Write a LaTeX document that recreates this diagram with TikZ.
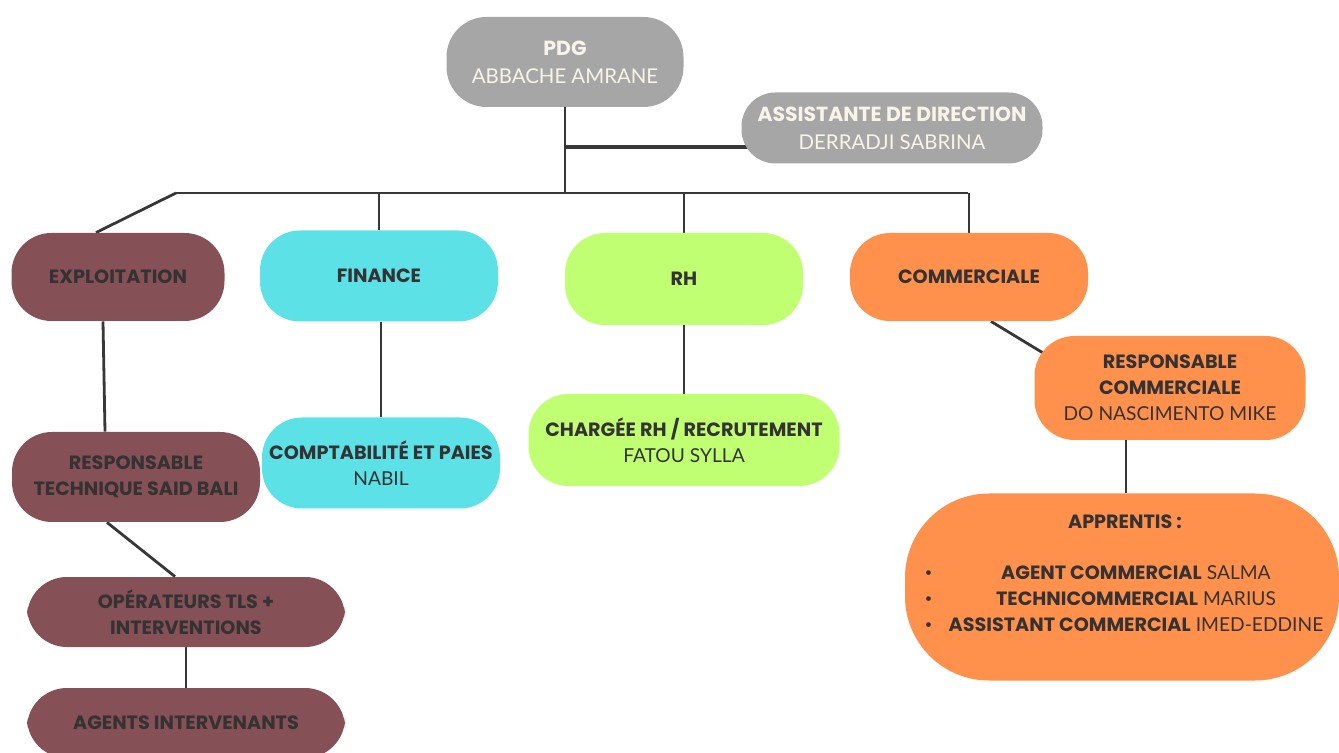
\documentclass[tikz,border=0pt]{standalone}
\usepackage{fontspec}
\setmainfont{Poppins}
\newfontfamily\nomfont{Lato}
\usetikzlibrary{backgrounds}

\begin{document}
\begin{tikzpicture}[x=0.5pt, y=-0.5pt,
    every node/.style={font=\fontsize{9.6}{13}\selectfont},
    case/.style={rounded corners=20pt, inner sep=0pt, align=center, text=texte},
    dim/.style 2 args={minimum width=#1*0.5pt, minimum height=#2*0.5pt},
    lien/.style={draw=trait, line width=1.4pt}]
    \definecolor{gris}{RGB}{166,166,166}
    \definecolor{creme}{RGB}{248,244,232}
    \definecolor{bordeaux}{RGB}{133,80,86}
    \definecolor{cyan}{RGB}{92,225,230}
    \definecolor{citron}{RGB}{193,255,114}
    \definecolor{orange}{RGB}{255,145,77}
    \definecolor{texte}{RGB}{52,50,50}
    \definecolor{trait}{RGB}{55,55,55}

    \useasboundingbox (0,0) rectangle (1339,753);

    % Direction.
    \node[case, fill=gris, text=creme, dim={237}{90}, font=\fontsize{10.2}{14}\selectfont]
        (pdg) at (565,62) {\bfseries PDG\\{\nomfont ABBACHE AMRANE}};
    \node[case, fill=gris, text=creme, dim={301}{71}, rounded corners=17pt, font=\fontsize{10.2}{14}\selectfont]
        (assist) at (892,128) {\bfseries ASSISTANTE DE DIRECTION\\{\nomfont DERRADJI SABRINA}};

    % Services.
    \node[case, fill=bordeaux, dim={213}{88}] (expl) at (118,277) {\bfseries EXPLOITATION};
    \node[case, fill=cyan, dim={238}{91}] (fin) at (379,276) {\bfseries FINANCE};
    \node[case, fill=citron, dim={238}{92}] (rh) at (684,279) {\bfseries RH};
    \node[case, fill=orange, dim={238}{88}] (comm) at (969,277) {\bfseries COMMERCIALE};

    % Exploitation.
    \node[case, fill=bordeaux, dim={248}{90}] (resptech) at (136,477)
        {\bfseries RESPONSABLE\\\bfseries TECHNIQUE SAID BALI};
    \node[case, fill=bordeaux, dim={318}{70}] (oper) at (186,612)
        {\bfseries OPÉRATEURS TLS +\\\bfseries INTERVENTIONS};
    \node[case, fill=bordeaux, dim={318}{70}] (agents) at (186,723)
        {\bfseries AGENTS INTERVENANTS};

    % Finance et RH.
    \node[case, fill=cyan, dim={238}{91}] (compta) at (381,463)
        {\bfseries COMPTABILITÉ ET PAIES\\{\nomfont NABIL}};
    \node[case, fill=citron, dim={311}{92}] (charge) at (684,440)
        {\bfseries CHARGÉE RH / RECRUTEMENT\\{\nomfont FATOU SYLLA}};

    % Commercial.
    \node[case, fill=orange, dim={271}{104}] (respcomm) at (1170,388)
        {\bfseries RESPONSABLE\\\bfseries COMMERCIALE\\{\nomfont DO NASCIMENTO MIKE}};
    \node[case, fill=orange, dim={434}{187}, rounded corners=42pt] (apprentis) at (1122,587) {};
    \node[text=texte] (apptitre) at (1125,522) {\bfseries APPRENTIS :};
    \node[text=texte, inner sep=0pt] (appliste) at (1124,600) {%
        \begin{tabular}{@{}l@{\hspace{8pt}}c@{}}
        \textbullet & \textbf{AGENT COMMERCIAL} {\nomfont SALMA} \\
        \textbullet & \textbf{TECHNICOMMERCIAL} {\nomfont MARIUS} \\
        \textbullet & \textbf{ASSISTANT COMMERCIAL} {\nomfont IMED-EDDINE}
        \end{tabular}};

    % Liaisons, sous les cases.
    \begin{scope}[on background layer]
        \coordinate (barg) at (176,193);
        \coordinate (bard) at (968,193);
        \draw[lien] (pdg.south) -- (pdg.south |- barg);
        \draw[lien, line width=2.4pt] (pdg.south |- 0,147) -- ([xshift=10pt]assist.west |- 0,147);
        \draw[lien] (barg) -- (bard);
        \draw[lien] (barg) -- ([xshift=-11pt]expl.north);
        \draw[lien] (fin.north |- barg) -- (fin.north);
        \draw[lien] (rh.north |- barg) -- (rh.north);
        \draw[lien] (comm.north |- barg) -- (comm.north);
        \draw[lien] ([xshift=-7.5pt]expl.south) -- ([xshift=-15.5pt]resptech.north);
        \draw[lien] ([xshift=-14.5pt]resptech.south) -- ([xshift=-5.5pt]oper.north);
        \draw[lien] (oper.south) -- (agents.north);
        \draw[lien] ([xshift=1pt]fin.south) -- ([xshift=1pt]fin.south |- compta.north);
        \draw[lien] (rh.south) -- (charge.north);
        \draw[lien] ([xshift=11pt]comm.south) -- ([xshift=-56pt,yshift=13pt]respcomm.center);
        \draw[lien] ([xshift=-22pt]respcomm.south) -- ([xshift=-22pt]respcomm.south |- apprentis.north);
    \end{scope}
\end{tikzpicture}
\end{document}
